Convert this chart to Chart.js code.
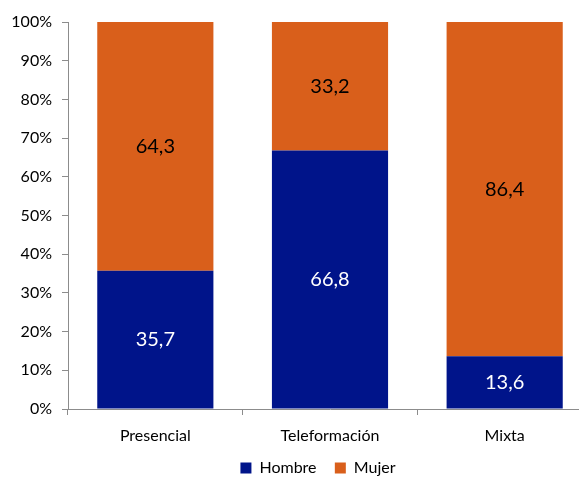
<!DOCTYPE html>
<html>
<head>
<meta charset="utf-8">
<script src="https://cdn.jsdelivr.net/npm/chart.js@4"></script>
<style>
  html, body { margin: 0; padding: 0; background: #fff; overflow: hidden; width: 579px; height: 477px; }
  #wrap { width: 600px; height: 477px; }
</style>
</head>
<body>
<div id="wrap"><canvas id="chart" width="600" height="477"></canvas></div>
<script>
// categorías y valores (%)
const categorias = ['Presencial', 'Teleformación', 'Mixta'];
const hombre = [35.7, 66.8, 13.6];
const mujer = [64.3, 33.2, 86.4];
const ticksY = [0, 10, 20, 30, 40, 50, 60, 70, 80, 90, 100];

const FUENTE = 'Lato, "Open Sans", sans-serif';

// etiquetas de datos dentro de cada segmento
const etiquetas = {
  id: 'etiquetas',
  afterDatasetsDraw(chart) {
    const ctx = chart.ctx;
    ctx.save();
    ctx.font = '20px ' + FUENTE;
    ctx.textAlign = 'center';
    ctx.textBaseline = 'middle';
    chart.data.datasets.forEach((ds, i) => {
      chart.getDatasetMeta(i).data.forEach((bar, j) => {
        const y = (bar.y + bar.base) / 2;
        ctx.fillStyle = i === 0 ? '#ffffff' : '#000000';
        ctx.fillText(ds.data[j].toFixed(1).replace('.', ','), bar.x, y);
      });
    });
    ctx.restore();
  }
};

// mover la leyenda para colocarla como en el original
const moverLeyenda = {
  id: 'moverLeyenda',
  afterLayout(chart) {
    const lg = chart.legend;
    const dx = 22, dy = 9;
    lg.left += dx; lg.right += dx;
    lg.top += dy; lg.bottom += dy;
  }
};

new Chart(document.getElementById('chart'), {
  type: 'bar',
  data: {
    labels: categorias,
    datasets: [
      { label: 'Hombre', data: hombre, backgroundColor: '#00148A' },
      { label: 'Mujer', data: mujer, backgroundColor: '#D95F1B' }
    ]
  },
  options: {
    responsive: false,
    animation: false,
    datasets: { bar: { categoryPercentage: 1, barPercentage: 0.665 } },
    layout: { padding: { top: 22, right: 8, left: 0, bottom: 0 } },
    plugins: {
      tooltip: { enabled: false },
      legend: {
        position: 'bottom',
        labels: {
          boxWidth: 11, boxHeight: 11, padding: 6,
          color: '#000', font: { family: FUENTE, size: 16 },
          // más separación entre los dos elementos
          generateLabels: (chart) => {
            const items = Chart.defaults.plugins.legend.labels.generateLabels(chart);
            items[0].text += '   ';
            return items;
          }
        }
      }
    },
    scales: {
      x: {
        stacked: true,
        afterFit: (s) => { s.height = 36; },
        border: { color: '#8c8c8c', width: 1 },
        grid: { drawOnChartArea: false, tickLength: 6, color: '#8c8c8c', offset: true },
        ticks: { color: '#000', font: { family: FUENTE, size: 16 }, padding: 11 }
      },
      y: {
        stacked: true,
        min: 0, max: 100,
        afterFit: (s) => { s.width = 68; },
        afterBuildTicks: (s) => { s.ticks = ticksY.map(v => ({ value: v })); },
        border: { color: '#8c8c8c', width: 1 },
        grid: { drawOnChartArea: false, tickLength: 6, color: '#8c8c8c' },
        ticks: {
          color: '#000', font: { family: FUENTE, size: 16 }, padding: 10,
          callback: (v) => v + '%'
        }
      }
    }
  },
  plugins: [etiquetas, moverLeyenda]
});
</script>
</body>
</html>
